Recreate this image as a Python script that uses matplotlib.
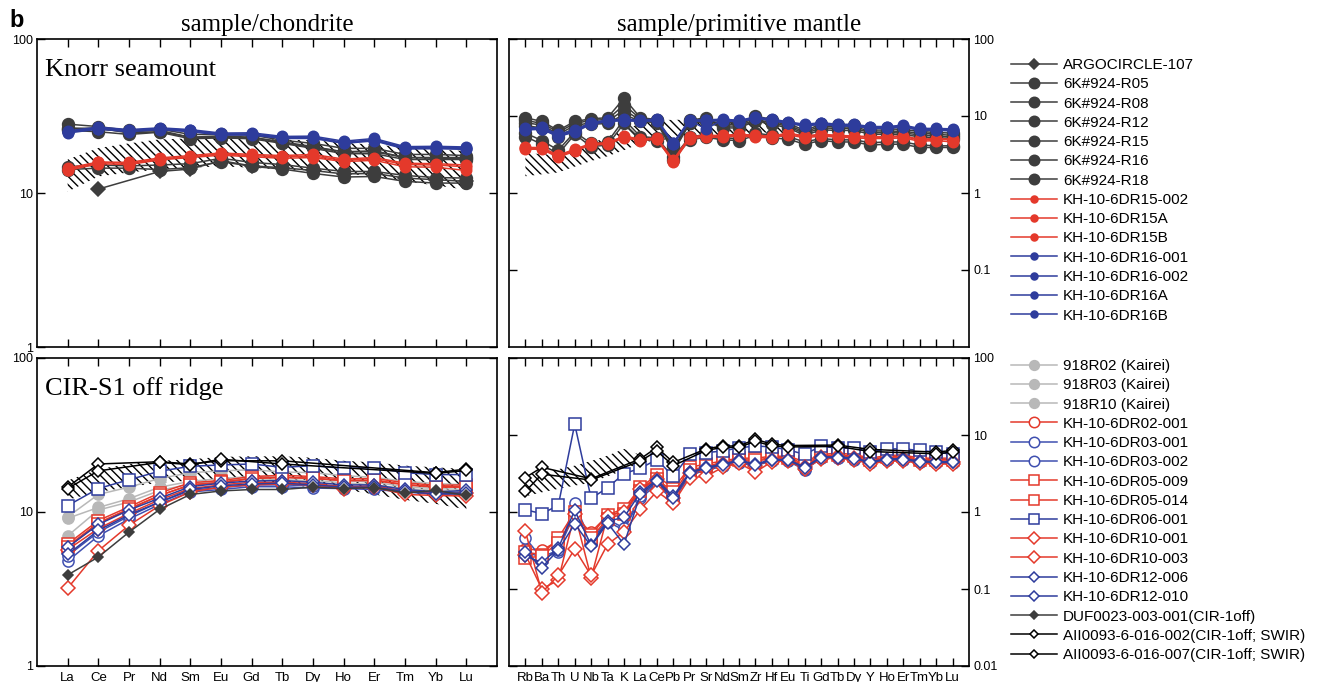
import numpy as np
import matplotlib
matplotlib.use('Agg')
import matplotlib.pyplot as plt
from matplotlib.lines import Line2D

plt.rcParams['font.family'] = ['Liberation Sans', 'DejaVu Sans']

nan = np.nan

ree = ['La', 'Ce', 'Pr', 'Nd', 'Sm', 'Eu', 'Gd', 'Tb', 'Dy', 'Ho', 'Er', 'Tm', 'Yb', 'Lu']
pm = ['Rb', 'Ba', 'Th', 'U', 'Nb', 'Ta', 'K', 'La', 'Ce', 'Pb', 'Pr', 'Sr', 'Nd', 'Sm',
      'Zr', 'Hf', 'Eu', 'Ti', 'Gd', 'Tb', 'Dy', 'Y', 'Ho', 'Er', 'Tm', 'Yb', 'Lu']

# ---- Knorr seamount, chondrite normalised
argo_ree = [nan, 10.6, nan, 13.8, 14.3, 16.2, 15.0, 14.6, 14.0, 13.3, 13.4, 12.5, 12.2, 11.9]
r05_ree = [28.0, 27.0, 25.5, 26.0, 24.0, 24.0, 23.8, 22.0, 21.0, 19.5, 19.5, 17.8, 17.8, 17.5]
r08_ree = [26.5, 26.0, 25.0, 25.5, 23.0, 23.5, 23.0, 21.5, 20.0, 18.5, 18.8, 17.0, 16.8, 16.8]
r12_ree = [25.5, 25.0, 24.0, 24.8, 22.5, 22.8, 22.5, 21.0, 19.5, 18.0, 18.0, 16.5, 16.5, 16.5]
r15_ree = [26.0, 26.5, 24.5, 25.0, 23.0, 23.0, 23.0, 21.2, 19.8, 18.5, 18.5, 17.0, 17.0, 17.0]
r16_ree = [14.2, 14.5, 14.5, 14.2, 14.6, 16.0, 14.9, 14.3, 13.4, 12.7, 12.8, 11.9, 11.6, 11.6]
r18_ree = [14.8, 15.2, 15.0, 15.2, 15.5, 16.8, 15.8, 15.3, 14.5, 13.8, 13.8, 13.0, 12.6, 12.5]
dr15_002_ree = [14.2, 15.8, 15.6, 16.6, 17.2, 17.9, 17.5, 17.2, 17.4, 16.3, 16.7, 15.3, 15.2, 14.8]
dr15a_ree = [14.0, 15.5, 15.3, 16.4, 17.0, 17.6, 17.2, 16.8, 17.0, 16.0, 16.3, 14.8, 14.7, 14.0]
dr15b_ree = [14.5, 15.9, 15.8, 16.9, 17.5, 18.2, 17.8, 17.5, 17.8, 16.6, 17.0, 15.6, 15.5, 15.2]
dr16_001_ree = [25.0, 26.5, 25.5, 26.2, 25.5, 24.2, 24.2, 23.0, 23.0, 21.3, 22.2, 19.7, 19.8, 19.6]
dr16_002_ree = [24.5, 26.0, 25.0, 25.8, 25.0, 23.8, 23.8, 22.6, 22.6, 21.0, 21.8, 19.3, 19.4, 19.2]
dr16a_ree = [25.3, 26.8, 25.8, 26.5, 25.8, 24.5, 24.6, 23.3, 23.4, 21.7, 22.6, 20.0, 20.1, 19.9]
dr16b_ree = [24.8, 26.2, 25.2, 26.0, 25.2, 24.0, 24.0, 22.8, 22.8, 21.2, 22.0, 19.5, 19.6, 19.4]
field_top_lo = [10.2, 12.8, 13.6, 14.2, 14.6, 14.9, 14.6, 14.2, 14.0, 13.4, 12.8, 11.9, 11.2, 10.5]
field_top_hi = [16.5, 19.6, 21.0, 22.3, 22.6, 22.7, 22.5, 22.2, 22.0, 21.2, 20.6, 19.8, 19.2, 18.7]

# ---- Knorr seamount, primitive mantle normalised
r05_pm = [9.5, 8.5, 6.5, 8.5, 9.2, 9.5, 17.0, 9.5, 9.0, 4.2, 8.8, 9.5, 8.2, 8.2, 10.0, 9.0, 8.0, 6.5, 7.8, 7.6, 7.6, 6.8, 6.8, 6.7, 6.3, 6.1, 6.0]
r08_pm = [8.8, 8.0, 6.2, 8.0, 8.8, 9.0, 14.0, 9.2, 8.8, 3.8, 8.5, 9.0, 7.8, 7.8, 9.5, 8.6, 7.6, 6.2, 7.4, 7.2, 7.2, 6.4, 6.4, 6.3, 6.0, 5.8, 5.6]
r12_pm = [8.2, 7.6, 5.8, 7.5, 8.2, 8.5, 12.0, 8.8, 8.5, 3.6, 8.2, 8.8, 7.4, 7.4, 9.0, 8.2, 7.3, 5.9, 7.0, 6.9, 6.9, 6.1, 6.1, 6.0, 5.7, 5.5, 5.3]
r15_pm = [7.5, 7.0, 5.4, 7.0, 7.8, 8.0, 10.5, 8.5, 8.2, 3.4, 8.0, 8.5, 7.0, 7.0, 8.6, 7.8, 7.0, 5.6, 6.6, 6.5, 6.5, 5.8, 5.8, 5.7, 5.4, 5.2, 5.1]
r16_pm = [5.4, 4.3, 3.2, 5.8, 4.0, 4.2, 8.0, 5.0, 4.8, 2.7, 4.9, 5.3, 4.9, 4.8, 5.6, 5.2, 5.0, 4.3, 4.8, 4.6, 4.6, 4.2, 4.3, 4.3, 3.9, 3.9, 3.9]
r18_pm = [6.0, 4.8, 3.6, 6.2, 4.4, 4.6, 9.0, 5.4, 5.2, 2.9, 5.3, 5.8, 5.2, 5.1, 6.0, 5.6, 5.4, 4.6, 5.1, 4.9, 4.9, 4.5, 4.6, 4.6, 4.2, 4.1, 4.1]
dr15_002_pm = [3.8, 3.8, 3.0, 3.6, 4.3, 4.4, 5.4, 4.9, 5.1, 2.6, 5.3, 5.5, 5.5, 5.7, 5.5, 5.4, 5.9, 5.4, 5.7, 5.5, 5.4, 5.3, 5.3, 5.4, 4.9, 5.0, 4.9]
dr15a_pm = [3.7, 3.7, 2.9, 3.5, 4.2, 4.3, 5.2, 4.8, 5.0, 2.5, 5.1, 5.3, 5.3, 5.5, 5.3, 5.2, 5.7, 5.2, 5.5, 5.3, 5.2, 5.1, 5.1, 5.2, 4.7, 4.8, 4.6]
dr15b_pm = [3.9, 3.9, 3.1, 3.7, 4.4, 4.5, 5.5, 5.0, 5.2, 2.7, 5.4, 5.6, 5.6, 5.8, 5.6, 5.5, 6.0, 5.5, 5.8, 5.6, 5.5, 5.4, 5.4, 5.5, 5.0, 5.1, 5.0]
dr16_001_pm = [6.8, 6.9, 5.6, 6.4, 8.0, 8.7, 8.9, 8.7, 8.9, 4.4, 8.7, 6.8, 8.9, 8.6, 9.5, 8.9, 8.2, 7.6, 8.0, 7.6, 7.6, 7.1, 7.1, 7.4, 6.7, 6.7, 6.6]
dr16_002_pm = [6.6, 6.7, 5.4, 6.2, 7.8, 8.5, 8.7, 8.5, 8.7, 4.3, 8.5, 8.6, 8.7, 8.4, 9.3, 8.7, 8.0, 7.4, 7.8, 7.4, 7.4, 6.9, 6.9, 7.2, 6.5, 6.5, 6.4]
dr16a_pm = [7.0, 7.1, 5.8, 6.6, 8.2, 8.9, 9.1, 8.9, 9.1, 4.5, 8.9, 8.9, 9.1, 8.8, 9.7, 9.1, 8.4, 7.8, 8.2, 7.8, 7.8, 7.3, 7.3, 7.6, 6.9, 6.9, 6.8]
dr16b_pm = [6.7, 6.8, 5.5, 6.3, 7.9, 8.6, 8.8, 8.6, 8.8, 4.35, 8.6, 8.8, 8.8, 8.5, 9.4, 8.8, 8.1, 7.5, 7.9, 7.5, 7.5, 7.0, 7.0, 7.3, 6.6, 6.6, 6.5]
field_pm_top_lo = [1.65, 1.75, 1.85, 2.2, 2.6, 3.0, 3.6, 4.4, 4.9, 5.0, 5.2, 5.4, 5.6, 5.8, 6.2, 6.0, 6.0]
field_pm_top_hi = [3.3, 3.2, 3.1, 3.6, 4.4, 5.4, 6.6, 8.0, 8.9, 8.9, 9.0, 9.0, 9.2, 9.3, 10.0, 9.5, 9.0]

# ---- CIR-S1 off ridge, chondrite normalised
k02_ree = [9.1, 10.7, 12.2, 14.5, 15.8, 16.5, 17.0, 16.8, 16.5, 16.0, 15.6, 14.6, 14.2, 14.0]
k03_ree = [7.0, 10.3, 11.6, 13.8, 15.2, 16.0, 16.5, 16.2, 16.0, 15.5, 15.0, 14.2, 13.8, 13.6]
k10_ree = [9.3, 13.0, 14.5, 16.5, 18.0, 18.5, 18.8, 18.2, 18.0, 17.2, 16.8, 15.8, 15.3, 15.0]
dr02_001_ree = [6.0, 8.5, 10.5, 12.8, 15.0, 15.5, 16.5, 16.8, 16.5, 16.0, 16.0, 15.0, 14.5, 14.5]
dr03_001_ree = [4.8, 7.0, 9.0, 11.2, 13.5, 14.0, 14.6, 14.6, 14.3, 14.2, 14.0, 13.5, 13.0, 13.0]
dr03_002_ree = [5.2, 7.4, 9.4, 11.6, 13.8, 14.4, 15.0, 15.0, 14.8, 14.6, 14.4, 13.8, 13.4, 13.3]
dr05_009_ree = [6.2, 8.8, 10.8, 13.3, 15.5, 16.0, 17.0, 17.3, 17.0, 16.4, 16.5, 15.5, 14.9, 15.0]
dr05_014_ree = [5.9, 8.4, 10.4, 12.8, 15.0, 15.6, 16.5, 16.8, 16.6, 16.0, 16.1, 15.1, 14.6, 14.6]
dr06_001_ree = [11.0, 14.2, 16.2, 18.4, 19.8, 20.2, 20.5, 19.5, 20.0, 19.2, 19.4, 18.0, 17.5, 17.5]
dr10_001_ree = [5.7, 7.8, 9.8, 12.0, 14.2, 15.0, 15.6, 15.6, 15.3, 14.6, 14.8, 13.6, 13.2, 13.2]
dr10_003_ree = [3.2, 5.6, 8.2, 11.0, 13.5, 14.5, 15.0, 15.2, 15.0, 14.2, 14.5, 13.0, 12.8, 12.7]
dr12_006_ree = [5.9, 8.3, 10.3, 12.3, 14.6, 15.4, 15.9, 16.0, 15.6, 15.0, 15.0, 14.0, 13.5, 13.8]
dr12_010_ree = [5.3, 7.6, 9.6, 11.6, 14.0, 14.8, 15.2, 15.4, 15.0, 14.5, 14.5, 13.6, 13.1, 13.3]
duf_ree = [3.9, 5.1, 7.4, 10.4, 13.0, 13.7, 14.0, 14.0, 14.5, 14.2, 14.4, 13.3, 13.8, 12.8]
aii002_ree = [14.5, 20.5, nan, 21.2, 20.5, 21.5, nan, 21.5, nan, nan, nan, nan, 18.0, 19.0]
aii007_ree = [14.2, 18.5, nan, 21.0, 20.3, 22.0, nan, 20.5, nan, nan, nan, nan, 17.8, 18.6]
field_bot_lo = [12.0, 13.5, 14.5, 15.5, 16.0, 16.0, 15.5, 15.0, 14.5, 14.0, 13.0, 12.0, 11.3, 10.4]
field_bot_hi = [16.0, 19.0, 20.5, 21.5, 22.0, 22.8, 23.0, 23.0, 22.5, 21.5, 21.0, 20.0, 19.5, 19.0]

# ---- CIR-S1 off ridge, primitive mantle normalised
dr02_001_pm = [0.33, 0.32, 0.42, 0.85, 0.55, 0.90, 1.0, 2.0, 2.8, 1.6, 3.3, 3.8, 4.2, 4.6, 4.6, 4.9, 4.9, 4.0, 5.3, 5.4, 5.2, 4.6, 5.0, 5.1, 4.7, 4.6, 4.6]
dr03_001_pm = [0.46, 0.25, 0.30, 1.30, 0.40, 0.75, 0.58, 1.5, 2.3, 1.4, 3.0, 3.5, 3.9, 4.3, 4.0, 4.6, 4.6, 3.5, 5.0, 5.0, 4.8, 4.3, 4.7, 4.7, 4.4, 4.3, 4.3]
dr03_002_pm = [0.30, 0.26, 0.32, 0.95, 0.42, 0.80, 0.62, 1.6, 2.4, 1.45, 3.1, 3.6, 4.0, 4.4, 4.1, 4.7, 4.7, 3.6, 5.1, 5.1, 4.9, 4.4, 4.8, 4.8, 4.5, 4.4, 4.4]
dr05_009_pm = [0.30, 0.28, 0.46, 1.00, 0.50, 0.92, 1.10, 2.1, 3.0, 2.0, 3.8, 4.2, 4.6, 5.0, 5.0, 5.3, 5.3, 4.5, 5.6, 5.8, 5.6, 5.0, 5.4, 5.5, 5.0, 5.0, 5.0]
dr05_014_pm = [0.25, 0.27, 0.40, 0.85, 0.46, 0.82, 0.95, 1.9, 2.7, 1.8, 3.5, 3.9, 4.4, 4.8, 4.7, 5.1, 5.1, 4.2, 5.4, 5.5, 5.4, 4.8, 5.2, 5.3, 4.8, 4.8, 4.8]
dr06_001_pm = [1.07, 0.95, 1.22, 13.8, 1.50, 2.07, 3.15, 3.7, 4.8, 2.9, 5.6, 5.9, 6.2, 6.8, 7.2, 7.0, 6.4, 5.6, 7.2, 6.7, 6.8, 6.0, 6.6, 6.6, 6.3, 6.0, 5.6]
dr10_001_pm = [0.28, 0.10, 0.13, 0.95, 0.14, 0.90, 1.00, 2.0, 2.7, 1.5, 3.2, 3.6, 4.2, 4.6, 4.0, 4.8, 4.8, 3.8, 5.2, 5.3, 5.0, 4.4, 4.8, 4.9, 4.5, 4.4, 4.4]
dr10_003_pm = [0.56, 0.09, 0.15, 0.33, 0.15, 0.38, 0.55, 1.08, 1.85, 1.3, 2.8, 2.9, 3.8, 4.3, 3.3, 4.5, 4.6, 3.6, 4.9, 5.0, 4.8, 4.2, 4.6, 4.6, 4.3, 4.2, 4.2]
dr12_006_pm = [0.27, 0.22, 0.34, 1.05, 0.37, 0.76, 0.85, 1.8, 2.6, 1.6, 3.3, 3.8, 4.2, 4.7, 4.2, 4.8, 4.8, 3.8, 5.2, 5.2, 5.0, 4.5, 4.9, 4.9, 4.6, 4.5, 4.5]
dr12_010_pm = [0.30, 0.19, 0.32, 0.70, 0.36, 0.72, 0.38, 1.7, 2.5, 1.5, 3.2, 3.7, 4.1, 4.6, 4.1, 4.7, 4.7, 3.7, 5.1, 5.1, 4.9, 4.4, 4.8, 4.8, 4.5, 4.4, 4.4]
aii002_pm = [2.8, 3.8, nan, nan, 2.7, nan, nan, 4.9, 6.9, 4.4, nan, 6.6, 7.2, 7.2, 8.8, 7.6, 7.3, nan, nan, 7.4, nan, 6.5, nan, nan, nan, 6.0, 6.3]
aii007_pm = [1.85, 3.1, nan, nan, 2.6, nan, nan, 4.6, 6.2, 4.0, nan, 6.3, 6.9, 6.9, 8.3, 7.2, 7.0, nan, nan, 7.1, nan, 6.1, nan, nan, nan, 5.7, 6.0]
field_pm_bot_lo = [1.6, 1.8, 2.0, 2.2, 2.4, 2.9, 3.5, 4.4]
field_pm_bot_hi = [3.0, 3.3, 3.6, 4.0, 4.6, 5.4, 6.6, 5.5]

dark = '#3d3d3d'
red = '#e4392b'
blue = '#2e3c9c'
lblue = '#3f4fb0'
gray = '#b8b8b8'

# label, chondrite, mantle, color, marker, size, face, legend size
top_series = [
    ('ARGOCIRCLE-107', argo_ree, None, dark, 'D', 7, dark, 5.5),
    ('6K#924-R05', r05_ree, r05_pm, dark, 'o', 8.5, dark, 7.5),
    ('6K#924-R08', r08_ree, r08_pm, dark, 'o', 8.5, dark, 7.5),
    ('6K#924-R12', r12_ree, r12_pm, dark, 'o', 8.5, dark, 7.5),
    ('6K#924-R15', r15_ree, r15_pm, dark, 'o', 8.5, dark, 7.5),
    ('6K#924-R16', r16_ree, r16_pm, dark, 'o', 8.5, dark, 7.5),
    ('6K#924-R18', r18_ree, r18_pm, dark, 'o', 8.5, dark, 7.5),
    ('KH-10-6DR15-002', dr15_002_ree, dr15_002_pm, red, 'o', 7.5, red, 5),
    ('KH-10-6DR15A', dr15a_ree, dr15a_pm, red, 'o', 7.5, red, 5),
    ('KH-10-6DR15B', dr15b_ree, dr15b_pm, red, 'o', 7.5, red, 5),
    ('KH-10-6DR16-001', dr16_001_ree, dr16_001_pm, blue, 'o', 7.5, blue, 5),
    ('KH-10-6DR16-002', dr16_002_ree, dr16_002_pm, blue, 'o', 7.5, blue, 5),
    ('KH-10-6DR16A', dr16a_ree, dr16a_pm, blue, 'o', 7.5, blue, 5),
    ('KH-10-6DR16B', dr16b_ree, dr16b_pm, blue, 'o', 7.5, blue, 5),
]

bot_series = [
    ('918R02 (Kairei)', k02_ree, None, gray, 'o', 8, gray, 7),
    ('918R03 (Kairei)', k03_ree, None, gray, 'o', 8, gray, 7),
    ('918R10 (Kairei)', k10_ree, None, gray, 'o', 8, gray, 7),
    ('KH-10-6DR02-001', dr02_001_ree, dr02_001_pm, red, 'o', 8, 'white', 7.5),
    ('KH-10-6DR03-001', dr03_001_ree, dr03_001_pm, lblue, 'o', 8, 'white', 7.5),
    ('KH-10-6DR03-002', dr03_002_ree, dr03_002_pm, lblue, 'o', 8, 'white', 7.5),
    ('KH-10-6DR05-009', dr05_009_ree, dr05_009_pm, red, 's', 8.5, 'white', 7.5),
    ('KH-10-6DR05-014', dr05_014_ree, dr05_014_pm, red, 's', 8.5, 'white', 7.5),
    ('KH-10-6DR06-001', dr06_001_ree, dr06_001_pm, blue, 's', 8.5, 'white', 7.5),
    ('KH-10-6DR10-001', dr10_001_ree, dr10_001_pm, red, 'D', 7, 'white', 6.5),
    ('KH-10-6DR10-003', dr10_003_ree, dr10_003_pm, red, 'D', 7, 'white', 6.5),
    ('KH-10-6DR12-006', dr12_006_ree, dr12_006_pm, blue, 'D', 6, 'white', 5),
    ('KH-10-6DR12-010', dr12_010_ree, dr12_010_pm, blue, 'D', 6, 'white', 5),
    ('DUF0023-003-001(CIR-1off)', duf_ree, None, dark, 'D', 5.5, dark, 4.5),
    ('AII0093-6-016-002(CIR-1off; SWIR)', aii002_ree, aii002_pm, 'black', 'D', 6.5, 'white', 4.5),
    ('AII0093-6-016-007(CIR-1off; SWIR)', aii007_ree, aii007_pm, 'black', 'D', 6.5, 'white', 4.5),
]


def draw(ax, vals, color, marker, ms, face):
    y = np.array(vals, dtype=float)
    x = np.arange(len(y))
    ok = ~np.isnan(y)
    ax.plot(x[ok], y[ok], color=color, lw=1.1, marker=marker, ms=ms,
            mfc=face, mec=color, mew=1.1, zorder=3)


def field(ax, lo, hi):
    x = np.arange(len(lo))
    ax.fill_between(x, lo, hi, facecolor='none', edgecolor='black',
                    hatch='\\\\\\\\', linewidth=0, zorder=1)


def setup(ax, names, right, lo, labels_x):
    ax.set_yscale('log')
    ax.set_ylim(lo, 100)
    ax.set_xlim(-1, len(names))
    ax.set_xticks(range(len(names)))
    ax.set_xticklabels(names if labels_x else [], fontsize=9.5)
    if right:
        ticks = [0.1, 1, 10, 100] if not labels_x else [0.01, 0.1, 1, 10, 100]
        labs = ['0.1', '1', '10', '100'] if not labels_x else ['0.01', '0.1', '1', '10', '100']
    else:
        ticks = [1, 10, 100]
        labs = ['1', '10', '100']
    ax.set_yticks(ticks)
    ax.set_yticklabels(labs, fontsize=9)
    ax.minorticks_off()
    ax.tick_params(direction='in', length=6, width=1, top=True, right=True,
                   left=True, bottom=True, pad=3)
    ax.tick_params(axis='x', pad=4)
    if right:
        ax.tick_params(axis='y', labelleft=False, labelright=True)
    for s in ax.spines.values():
        s.set_linewidth(1.2)


fig = plt.figure(figsize=(13.3, 6.82), dpi=100)
W, H = 1330.0, 682.0
ax_tl = fig.add_axes([37 / W, 1 - 347 / H, 460 / W, 308 / H])
ax_tr = fig.add_axes([509 / W, 1 - 347 / H, 460 / W, 308 / H])
ax_bl = fig.add_axes([37 / W, 1 - 666 / H, 460 / W, 308 / H])
ax_br = fig.add_axes([509 / W, 1 - 666 / H, 460 / W, 308 / H])

setup(ax_tl, ree, False, 1, False)
setup(ax_tr, pm, True, 0.01, False)
setup(ax_bl, ree, False, 1, True)
setup(ax_br, pm, True, 0.01, True)

field(ax_tl, field_top_lo, field_top_hi)
field(ax_tr, field_pm_top_lo, field_pm_top_hi)
field(ax_bl, field_bot_lo, field_bot_hi)
field(ax_br, field_pm_bot_lo, field_pm_bot_hi)

for label, c, m, col, mk, ms, fc, lms in top_series:
    draw(ax_tl, c, col, mk, ms, fc)
    if m is not None:
        draw(ax_tr, m, col, mk, ms, fc)

for label, c, m, col, mk, ms, fc, lms in bot_series:
    draw(ax_bl, c, col, mk, ms, fc)
    if m is not None:
        draw(ax_br, m, col, mk, ms, fc)

serif = ['Liberation Serif', 'DejaVu Serif']
ax_tl.text(0.018, 0.9, 'Knorr seamount', transform=ax_tl.transAxes, fontsize=19,
           family=serif, va='center')
ax_bl.text(0.018, 0.9, 'CIR-S1 off ridge', transform=ax_bl.transAxes, fontsize=19,
           family=serif, va='center')
fig.text(267 / W, 1 - 31 / H, 'sample/chondrite', fontsize=18, family=serif,
         ha='center', va='baseline')
fig.text(739 / W, 1 - 31 / H, 'sample/primitive mantle', fontsize=18, family=serif,
         ha='center', va='baseline')
fig.text(9 / W, 1 - 27 / H, 'b', fontsize=17, fontweight='bold', va='baseline')


def legend(series, y):
    handles = [Line2D([], [], color=col, lw=1.1, marker=mk, ms=lms, mfc=fc,
                      mec=col, mew=1.1) for _, _, _, col, mk, _, fc, lms in series]
    labels = [s[0] for s in series]
    fig.legend(handles, labels, loc='upper left', bbox_to_anchor=(1011 / W, y),
               frameon=False, fontsize=11, handlelength=3.0, handletextpad=0.4,
               labelspacing=0.345, borderpad=0, borderaxespad=0)


legend(top_series, 1 - 58 / H)
legend(bot_series, 1 - 359 / H)

fig.savefig('out.png', dpi=100)
